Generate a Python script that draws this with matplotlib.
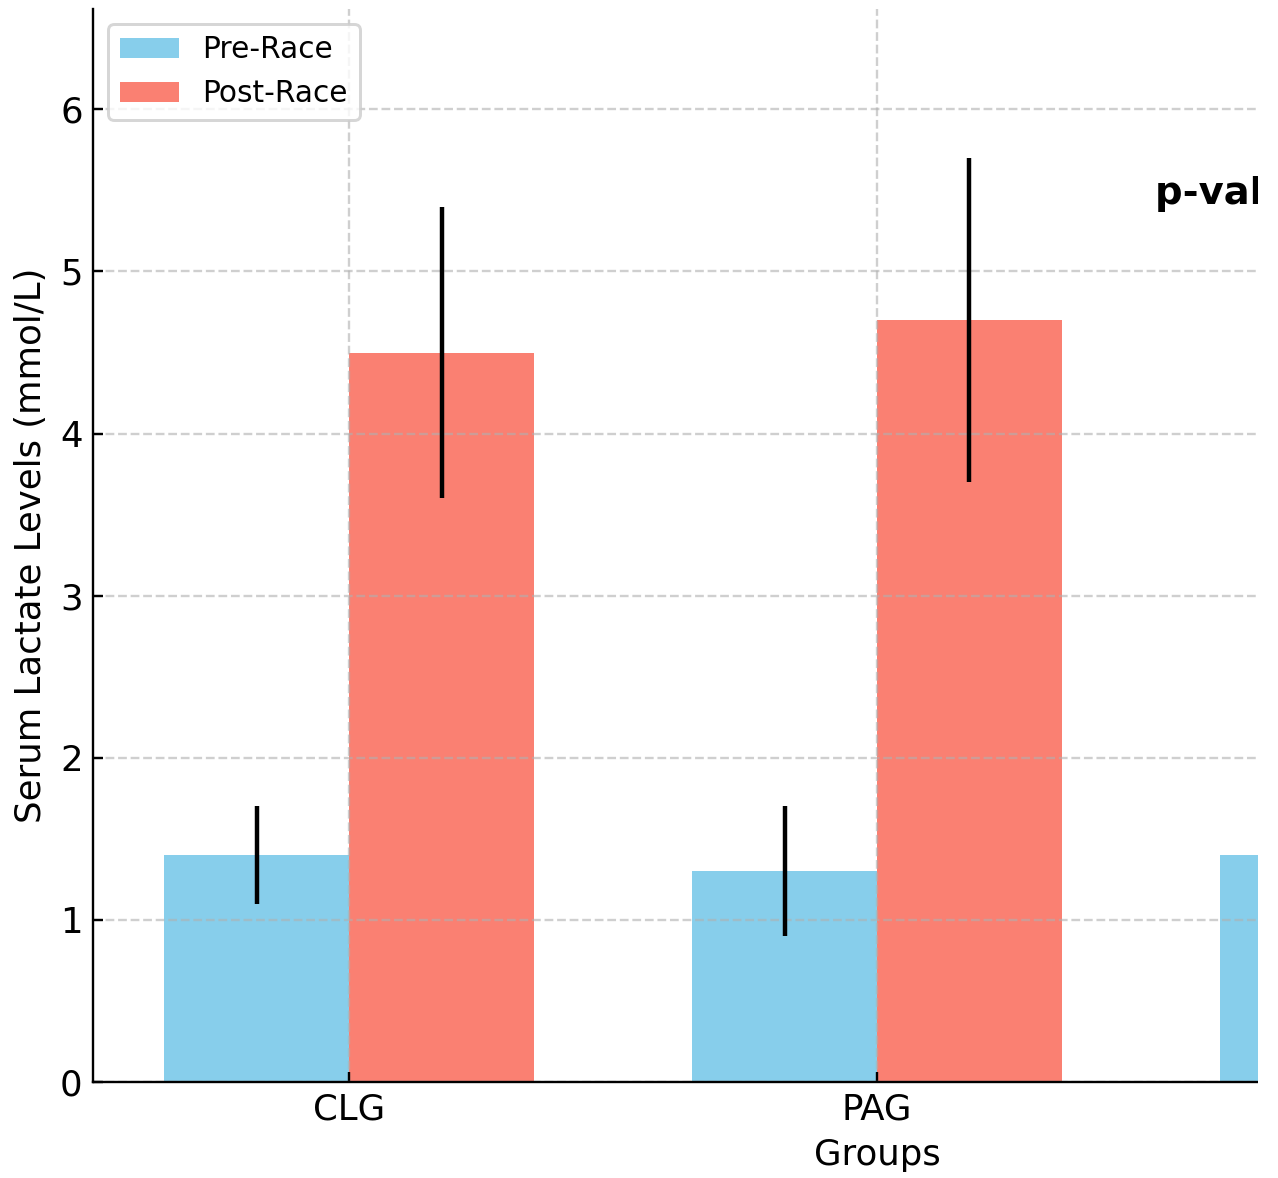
import numpy as np
import matplotlib
matplotlib.use("Agg")
import matplotlib.pyplot as plt
from matplotlib.patches import Rectangle

# データ
groups = ["CLG", "PAG", "ALG"]
pre_race = [1.4, 1.3, 1.4]
pre_err = [0.3, 0.4, 0.3]
post_race = [4.5, 4.7, 4.6]
post_err = [0.9, 1.0, 1.7]

plt.rcParams["font.size"] = 12

dpi = 213
fig = plt.figure(figsize=(1278 / dpi, 1178 / dpi), dpi=dpi)
# 右側は画像の外まで伸びている
ax = fig.add_axes([0.0728, 0.0815, 1.227, 0.911])

x = np.arange(len(groups))
width = 0.35

ax.bar(x - width / 2, pre_race, width, yerr=pre_err, color="skyblue", label="Pre-Race")
ax.bar(x + width / 2, post_race, width, yerr=post_err, color="salmon", label="Post-Race")

ax.set_xticks(x)
ax.set_xticklabels(groups)
ax.set_xlabel("Groups")
ax.set_ylabel("Serum Lactate Levels (mmol/L)")
ax.set_ylim(0, 6.62)

ax.tick_params(direction="in")
ax.spines["top"].set_visible(False)
ax.spines["right"].set_visible(False)
ax.grid(True, linestyle="--", alpha=0.6)

ax.text(1.527, 5.48, "p-value < 0.05", fontweight="bold", fontsize=13, ha="left", va="center")

ax.legend(loc="upper left", fontsize=10)

# 元画像は右端が切り取られて白い余白になっている
fig.patches.append(Rectangle((1258 / 1278, 0), 1, 1, transform=fig.transFigure,
                             facecolor="white", edgecolor="none", zorder=10))

fig.savefig("out.png", dpi=dpi)
